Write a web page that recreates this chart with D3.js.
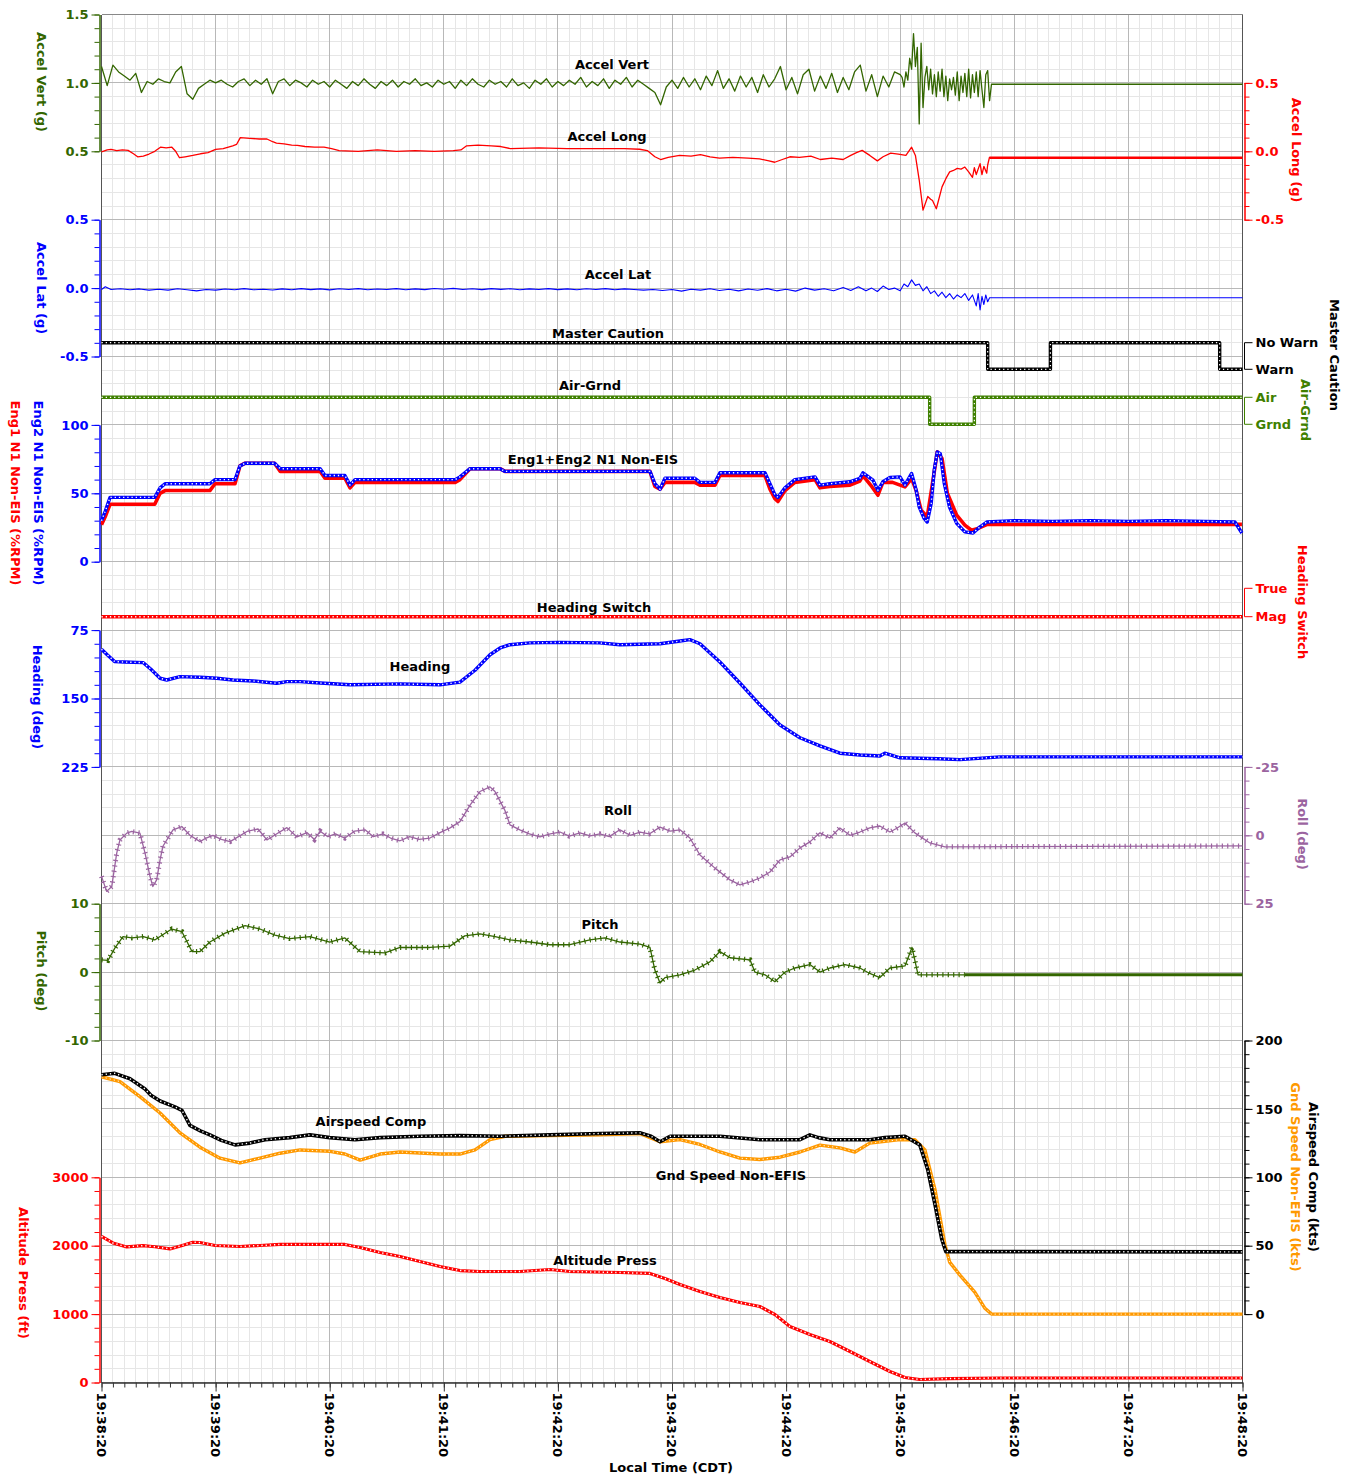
<!DOCTYPE html>
<html lang="en">
<head>
<meta charset="UTF-8">
<title>Flight Data Plot</title>
<style>
  body { margin: 0; background: #fff; }
  svg text { font-family: "DejaVu Sans", Verdana, sans-serif; font-weight: bold; font-size: 13px; }
</style>
</head>
<body>
<script src="https://d3js.org/d3.v7.min.js"></script>
<script>
// 1. data (t = seconds after 19:38:20)
// accel vert: 3 s samples from t=0, then 1 s samples from t=421
const accelVertSlow = [
  1.12, 0.98, 1.13, 1.08, 1.05, 1.02, 1.07, 0.93, 1.01, 0.99, 1.03, 1.01, 1.00, 1.08, 1.12, 0.92, 0.88, 0.96, 0.99, 1.02, 1.00,
  1.02, 0.99, 0.97, 1.01, 1.03, 0.98, 1.02, 0.99, 1.03, 0.92,
  1.01, 1.03, 0.98, 1.02, 1.00, 0.97, 1.02, 0.99, 1.01, 0.97,
  1.02, 0.99, 0.96, 1.01, 0.98, 1.03, 0.99, 0.96, 1.01, 0.98,
  1.02, 0.97, 1.01, 0.99, 1.03, 0.98, 1.00, 0.97, 1.02, 0.99,
  1.01, 0.96, 1.02, 0.98, 1.03, 0.99, 0.97, 1.02, 0.99, 1.01,
  0.97, 1.03, 0.98, 1.00, 0.96, 1.02, 0.99, 1.03, 0.97, 1.01,
  0.98, 1.02, 0.99, 1.04, 0.97, 1.01, 0.98, 1.03, 0.96, 1.02,
  0.99, 1.04, 0.97, 1.02, 0.99, 0.96,
  0.93, 0.84, 0.97,
  1.02, 0.96, 1.04, 0.97, 1.03, 0.95, 1.05, 0.98, 1.09, 0.96,
  1.03, 0.94, 1.05, 0.97, 1.04, 0.93, 1.06, 0.97, 1.03, 1.12,
  0.95, 1.04, 0.92, 1.06, 1.10, 0.94, 1.05, 0.96, 1.07, 0.93,
  1.04, 0.95, 1.08, 1.13, 0.94, 1.06, 0.90, 1.05, 0.97, 1.08,
  1.06
];
const accelVertFast = [
  1.04, 0.97, 1.08, 1.02, 1.18, 1.10, 1.36, 1.12, 1.26, 0.70,
  1.29, 0.82, 1.04, 1.12, 0.95, 1.10, 0.92, 1.06, 0.90, 1.08,
  0.94, 1.10, 0.90, 1.05, 0.87, 1.03, 0.95, 1.04, 0.91, 1.08,
  0.87, 1.05, 0.93, 1.07, 0.90, 1.10, 0.89, 1.06, 0.93, 1.08,
  0.90, 1.09, 0.95, 0.82, 1.06, 1.09, 0.87
];
const accelVertTail = [[468, 0.99], [600, 0.99]];

const accelLong = [[0,-0.005],[3,0.01],[5,0.014],[8,0.005],[11,0.01],[14,0.007],[17,-0.02],[19,-0.04],[22,-0.035],[25,-0.02],
  [28,0.0],[31,0.03],[34,0.025],[37,0.03],[39,0.0],[41,-0.047],[44,-0.04],[48,-0.03],[52,-0.018],[56,-0.01],[60,0.014],
  [64,0.02],[69,0.04],[71,0.05],[73,0.10],[78,0.095],[83,0.09],[87,0.09],[90,0.07],[92,0.06],[96,0.055],[100,0.045],
  [103,0.043],[107,0.035],[112,0.03],[117,0.03],[121,0.02],[125,0.005],[135,0.0],[145,0.01],[155,0.0],[165,0.005],
  [175,0.0],[185,0.005],[189,0.01],[192,0.04],[198,0.045],[205,0.04],[210,0.035],[215,0.02],[230,0.025],[245,0.02],
  [260,0.02],[275,0.02],[283,0.015],[287,0.005],[291,-0.04],[294,-0.06],[298,-0.045],[304,-0.03],[310,-0.035],
  [315,-0.025],[320,-0.04],[325,-0.05],[332,-0.045],[340,-0.05],[346,-0.055],[351,-0.07],[354,-0.08],[358,-0.06],
  [362,-0.04],[367,-0.045],[373,-0.035],[378,-0.06],[384,-0.05],[390,-0.06],[394,-0.03],[397,-0.01],[400,0.007],
  [404,-0.03],[408,-0.07],[411,-0.04],[415,-0.013],[419,-0.02],[423,-0.03],[426,0.03],[428,-0.03],[430,-0.21],
  [432,-0.43],[434.5,-0.33],[436,-0.35],[437,-0.36],[439,-0.42],[442,-0.26],[444,-0.2],[446,-0.15],[448,-0.14],
  [450,-0.125],[452,-0.13],[454,-0.115],[456,-0.15],[458,-0.19],[459,-0.12],[460,-0.17],[462,-0.09],[463,-0.17],
  [464,-0.11],[465.5,-0.16],[466,-0.1],[467,-0.04]];
const accelLongTail = [[467,-0.047],[600,-0.047]];

const accelLat = [[0,-0.01],[2,0.01],[5,-0.01],[10,-0.005],[15,-0.012],[20,-0.006],[25,-0.015],[30,-0.008],[35,-0.015],
  [40,-0.005],[45,-0.012],[50,-0.02],[55,-0.01],[60,-0.015],[65,-0.007],[70,-0.012],[75,-0.004],[80,-0.012],[85,-0.008],
  [90,-0.014],[95,-0.006],[100,-0.012],[105,-0.004],[110,-0.011],[115,-0.006],[120,-0.013],[125,-0.005],[130,-0.01],
  [135,-0.004],[140,-0.012],[145,-0.007],[150,-0.01],[155,-0.004],[160,-0.012],[165,-0.006],[170,-0.011],[175,-0.003],
  [180,-0.008],[185,-0.002],[190,-0.01],[195,-0.005],[200,-0.011],[205,-0.004],[210,-0.009],[215,-0.005],[220,-0.012],
  [225,-0.006],[230,-0.01],[235,-0.004],[240,-0.011],[245,-0.006],[250,-0.012],[255,-0.005],[260,-0.01],[265,-0.004],
  [270,-0.012],[275,-0.006],[280,-0.01],[285,-0.015],[290,-0.01],[295,-0.018],[300,-0.01],[305,-0.022],[310,-0.008],
  [315,-0.015],[320,-0.005],[325,-0.018],[330,-0.008],[335,-0.02],[340,-0.006],[345,-0.016],[350,-0.004],[355,-0.02],
  [360,-0.008],[365,-0.022],[370,0.0],[375,-0.015],[380,-0.005],[385,-0.02],[390,0.005],[394,-0.018],[398,0.01],
  [402,-0.02],[405,0.0],[408,-0.025],[411,0.015],[414,-0.01],[417,0.0],[420,-0.02],[422,0.03],[424,0.01],[426,0.06],
  [428,0.02],[430,0.03],[432,-0.02],[434,0.01],[436,-0.04],[438,-0.02],[440,-0.06],[442,-0.03],[444,-0.07],[446,-0.04],
  [448,-0.08],[450,-0.05],[452,-0.07],[454,-0.04],[456,-0.09],[458,-0.05],[460,-0.13],[461,-0.04],[462,-0.16],
  [463,-0.06],[464,-0.12],[465,-0.05],[466,-0.1],[467,-0.07],[600,-0.07]];

// discrete: 1 = No Warn / Air / True, 0 = Warn / Grnd / Mag
const masterCaution = [[0,1],[466,0],[499,1],[588,0],[600,0]];
const airGrnd = [[0,1],[435.5,0],[459,1],[600,1]];
const headingSwitch = [[0,0],[600,0]];

const eng2N1 = [[0,30],[2,37],[4.5,47],[28,47],[30.8,54],[33.4,57],[57,57],[59.7,60],[70.2,60],[72.8,70],[75.5,72],
  [91,72],[94,68],[115,68],[117.5,63],[128,63],[130.7,56],[133.3,60],[186,60],[188.5,62],[193.8,68],[209.6,68],
  [212.2,66],[288.4,66],[291,57],[293.7,53],[296.3,61],[312,61],[314.7,58],[322.6,58],[325.2,65],[348.9,65],
  [351.5,57],[354.1,49],[355.7,47],[359.4,54],[364.6,60],[375.2,62],[377.8,56],[383,57],[393.6,58.4],[398.8,61],
  [400.4,65],[405.7,59.6],[408.3,52.3],[410.9,58.4],[414.6,61.6],[419.9,62],[422.5,56],[426,64.5],[428.4,52.3],
  [430,40],[432.6,31.6],[434.2,29],[436.3,42.6],[437.9,67],[439.5,80.3],[441.1,79],[443.2,57],[445.9,40],[449.7,28],
  [454,21.8],[458.3,21],[462,25.5],[465.5,29],[480,30],[500,29.5],[520,30],[540,29.5],[560,30],[580,29.5],[596,29],
  [599.7,21]];
const eng1N1 = [[0,27],[2,33],[4.5,42],[28,42],[30.8,50],[33.4,52],[57,52],[59.7,57],[70.2,57],[72.8,70],[75.5,72],
  [91,72],[94,66],[115,66],[117.5,61],[128,61],[130.7,54],[133.3,58],[186,58],[188.5,60],[193.8,68],[209.6,68],
  [212.2,66],[288.4,66],[291,55],[293.7,53],[296.3,58],[312,58],[314.7,56],[322.6,56],[325.2,63],[348.9,63],
  [351.5,53],[354.1,46],[355.7,44],[359.4,52],[364.6,58],[375.2,60],[377.8,54],[383,55],[393.6,56],[398.8,59],
  [400.4,63],[405,55],[408.3,48.6],[410.9,58],[416,58],[422.5,54.7],[426,60.8],[428.4,52],[431,37.7],[434.2,32.8],
  [436.7,54.7],[439.5,80.3],[442,75.4],[444.8,50],[449.7,34],[454,26.7],[457.5,23],[460.9,24.3],[465.5,27.2],
  [599.7,27.3]];

const heading = [[0,96],[3,102],[7,109.6],[12,110],[22,110.7],[26,118],[30.8,127.8],[34.3,129.7],[41.3,126],
  [51.8,126.7],[60.6,127.8],[69.1,129.7],[79.7,130.8],[92.1,133.3],[97.4,131.5],[104.4,131.5],[115,133],[130.7,135],
  [157,134],[178,135],[188.5,132],[196.4,119],[204.3,102],[209.6,94.6],[214.8,91],[225.3,89],[241,88.5],[262,89],
  [272.6,91],[293.7,90],[304.2,87],[309.4,85.5],[314.7,90],[325.2,110],[335.7,133],[346.2,157],[356.8,179],
  [367.3,193],[377.8,202],[388.3,210],[398.8,212],[409.3,213],[411.9,210],[419.9,215],[440,216],[451.4,217],
  [472.5,214],[600,214]];

const roll = [[0,15],[2.7,20.5],[5.4,18.7],[8,6.5],[9.7,1.7],[13.3,-0.8],[15.9,-1.4],[20.2,-0.8],[22.9,6.5],[25.5,15],
  [27,18.7],[29,16.3],[30.8,9],[32.3,4],[37.6,-2],[42.2,-3.2],[46.5,0],[51.8,2.3],[55,1],[58.6,0],[63,1.5],[67.6,2.3],
  [72,0.5],[76.5,-1.4],[82.3,-2.3],[87,1.7],[92,-0.5],[97.5,-2.8],[102.8,0.6],[108,-1],[112,1.5],[115,-1.5],[119,0.5],
  [123,-0.5],[128,1],[133,-1.5],[138.6,-2],[143,0.5],[148,-0.5],[152,1],[157,2],[162,0.5],[167,1.5],[172.7,1],
  [178,-1],[183.3,-2.7],[188.5,-5],[193.8,-11],[199,-16],[204.3,-17.7],[206.9,-16],[212.2,-9],[214.8,-3.8],[220,-2],
  [225,-0.5],[230.6,0.6],[236,-0.5],[241.1,-1.2],[246,0.3],[251.6,-0.9],[257,0.2],[262.1,-0.5],[267,0.5],[272.6,-2],
  [278,0],[283.2,-1.2],[288,-0.5],[293.7,-3],[299,-1.5],[304.2,-2],[309.4,1],[314.7,7.2],[322.6,12],[330.5,16.3],
  [335.7,18.1],[341,17],[346.2,15.6],[351.5,13.4],[356.8,9],[362,7.9],[367.3,4.6],[372.5,2.4],[377.8,-0.9],[383,1],
  [388.3,-2.7],[393.6,0],[398.8,-1.2],[404,-2.7],[409.3,-3.4],[414.6,-1.2],[418,-2.5],[422.5,-4.5],[427.7,-0.9],
  [435.6,2.8],[443.5,4.2],[600,3.9]];

const pitch = [[0,1.8],[3.4,1.7],[7,3.5],[11.3,5.2],[16,5],[22,5.2],[28,4.7],[33,5.6],[37,6.3],[42.3,5.9],[47.6,3.0],
  [51.8,3.0],[57,4.4],[65,5.7],[75.5,6.8],[83.3,6.3],[91.2,5.4],[99,4.9],[109.6,5.2],[120,4.4],[128,5],[135.9,3.0],
  [149,2.8],[157,3.6],[172.7,3.6],[183.3,3.8],[191,5.3],[199,5.6],[207,5.2],[214.8,4.7],[225.3,4.4],[235.8,4],
  [246.3,4],[256.8,4.7],[264.7,5],[272.6,4.4],[283.2,4.1],[288.4,3.6],[291,0.3],[293.7,-1.6],[296.3,-0.8],
  [304.2,-0.4],[312,0.3],[319.9,1.5],[325.2,3],[330.5,2.1],[341,1.8],[343.6,0],[348.9,-0.4],[354.1,-1.4],[359.4,0],
  [364.6,0.6],[372.5,1.1],[377.8,0],[383,0.6],[390.9,1.1],[398.8,0.6],[404,-0.2],[409.3,-0.8],[414.6,0.6],
  [422.5,0.9],[426.2,3.6],[429.4,-0.4],[454,-0.4]];
const pitchTail = [[454,-0.4],[600,-0.4]];

const airspeed = [[0,175],[7,176],[15,172],[22.9,164.5],[26,160],[30.8,155.8],[38.6,151.5],[42.3,149],[46.5,138],
  [52,134],[57,131],[63,127],[70.2,123.7],[78,125],[86,127.5],[99,129],[109.6,131],[120,129],[133.3,127.5],
  [146.5,129],[167.5,130],[188.5,130.5],[209.6,130],[235.8,131],[262,132],[283,132.5],[289,130],[293.7,126],
  [299,130],[325.2,130],[346.2,127.5],[367.3,127.5],[372.5,131],[377,129],[383,127.5],[404,127.5],[411.9,129],
  [422.5,130],[430.3,123.7],[434.5,105.5],[438.3,80],[441.9,54.5],[444,45.7],[600,45.5]];

const gndSpeed = [[0,173.5],[9.7,170],[20.2,159],[30.8,147],[41.3,132.5],[51.8,122],[62.3,114],[72.8,110.5],
  [83.3,114],[93.9,117.6],[104.4,120],[120.1,119],[128,117],[136,112.6],[146.5,117],[157,118.5],[178,117],
  [188.5,117],[196.4,120],[204.3,127.5],[212.2,130],[235.8,130.5],[262,131],[283,132],[293.7,126],[304.2,127.5],
  [314.7,124],[325.2,118.5],[335.7,114],[346.2,113],[356.8,114.7],[367.3,118.5],[377.8,123.5],[388.3,121.5],
  [396.2,118.5],[404,125],[419.9,127.5],[427.7,127.5],[433,120],[438.3,91],[443.5,51],[446,38],[451.4,28.5],
  [459.2,16],[464.4,4.5],[468,0],[600,0]];

const altitude = [[0,2137],[6,2040],[13.3,1982],[21.8,2001],[28,1985],[36,1953],[42,2000],[48,2050],[51.8,2047],
  [59.7,2003],[72.8,1988],[83.3,2003],[93.9,2018],[114.9,2018],[128,2018],[136,1974],[146.5,1900],[157,1842],
  [167.5,1769],[178,1696],[188.5,1637],[199,1623],[220,1623],[235.8,1652],[246.3,1623],[272.6,1608],[288.4,1594],
  [296.3,1520],[304.2,1433],[314.7,1330],[325.2,1243],[335.7,1170],[346.2,1111],[354.1,994],[362,819],[372.5,702],
  [383,599],[393.6,453],[404,307],[414.6,161],[422.5,73],[430.3,44],[446,58],[472.5,66],[600,66]];

const timeTicks = ["19:38:20","19:39:20","19:40:20","19:41:20","19:42:20","19:43:20",
                   "19:44:20","19:45:20","19:46:20","19:47:20","19:48:20"];

// 2. layout
const width = 1359, height = 1479;
const X0 = 101.5, X1 = 1242.5, Y0 = 14.5, RH = 68.4;
const row = k => Y0 + k * RH;
const LEFT = 99.5, RIGHT = 1244.5;

const GREEN = "#336600", AIRGREEN = "#3f8000", RED = "#ff0000", BLUE = "#0000ff",
      PURPLE = "#9b64a0", ORANGE = "#ff9900", BLACK = "#000000";

const svg = d3.select("body").append("svg").attr("width", width).attr("height", height);

const x = d3.scaleLinear().domain([0, 600]).range([X0, X1]);

const yAccelVert = d3.scaleLinear().domain([0.5, 1.5]).range([row(2), row(0)]);
const yAccelLong = d3.scaleLinear().domain([-0.5, 0.5]).range([row(3), row(1)]);
const yAccelLat  = d3.scaleLinear().domain([-0.5, 0.5]).range([row(5), row(3)]);
const yCaution   = d3.scaleLinear().domain([0, 1]).range([369.3, 342.7]);
const yAirGrnd   = d3.scaleLinear().domain([0, 1]).range([424.3, 397.3]);
const yEng       = d3.scaleLinear().domain([0, 100]).range([row(8), row(6)]);
const yHdgSw     = d3.scaleLinear().domain([0, 1]).range([616.7, 588.3]);
const yHeading   = d3.scaleLinear().domain([75, 225]).range([row(9), row(11)]);
const yRoll      = d3.scaleLinear().domain([-25, 25]).range([row(11), row(13)]);
const yPitch     = d3.scaleLinear().domain([-10, 10]).range([row(15), row(13)]);
const ySpeed     = d3.scaleLinear().domain([0, 200]).range([row(19), row(15)]);
const yAlt       = d3.scaleLinear().domain([0, 3000]).range([row(20), row(17)]);

// 3. grid
const grid = svg.append("g").attr("shape-rendering", "crispEdges");
const vT = d3.range(0, 601, 6), hT = d3.range(0, 101);
grid.selectAll(".vmin").data(vT.filter(d => d % 60)).join("line")
  .attr("x1", d => x(d)).attr("x2", d => x(d)).attr("y1", Y0).attr("y2", row(20)).attr("stroke", "#e6e6e6");
grid.selectAll(".hmin").data(hT.filter(d => d % 5)).join("line")
  .attr("x1", X0).attr("x2", X1).attr("y1", d => Y0 + d * RH / 5).attr("y2", d => Y0 + d * RH / 5).attr("stroke", "#e6e6e6");
grid.selectAll(".vmaj").data(vT.filter(d => d % 60 === 0)).join("line")
  .attr("x1", d => x(d)).attr("x2", d => x(d)).attr("y1", Y0).attr("y2", row(20)).attr("stroke", "#b8b8b8");
grid.selectAll(".hmaj").data(d3.range(0, 21)).join("line")
  .attr("x1", X0).attr("x2", X1).attr("y1", d => row(d)).attr("y2", d => row(d)).attr("stroke", "#b8b8b8");
grid.append("line").attr("x1", X0).attr("x2", X1).attr("y1", Y0).attr("y2", Y0).attr("stroke", "#888");
grid.append("line").attr("x1", X0).attr("x2", X0).attr("y1", Y0).attr("y2", row(20)).attr("stroke", "#555");
grid.append("line").attr("x1", X1).attr("x2", X1).attr("y1", Y0).attr("y2", row(20)).attr("stroke", "#555");

// 4. series
const plot = svg.append("g");
function lineFor(ys, curve) {
  return d3.line().x(d => x(d[0])).y(d => ys(d[1])).curve(curve || d3.curveLinear);
}
function plain(data, ys, color, w, curve) {
  plot.append("path").datum(data).attr("d", lineFor(ys, curve))
    .attr("fill", "none").attr("stroke", color).attr("stroke-width", w).attr("stroke-linejoin", "round");
}
// hollow marker look: thick coloured line with small white holes
function beads(data, ys, color, w, hole, curve) {
  plain(data, ys, color, w, curve);
  plot.append("path").datum(data).attr("d", lineFor(ys, curve))
    .attr("fill", "none").attr("stroke", "#fff").attr("stroke-width", hole)
    .attr("stroke-dasharray", "1.3 2.9");
}
// cross marker look: thin line with short bars across it
function crosses(data, ys, color, curve) {
  plain(data, ys, color, 1.3, curve);
  plot.append("path").datum(data).attr("d", lineFor(ys, curve))
    .attr("fill", "none").attr("stroke", color).attr("stroke-width", 5)
    .attr("stroke-dasharray", "1.2 4.2");
}

const accelVertPts = accelVertSlow.map((v, i) => [i * 3, v])
  .concat(accelVertFast.map((v, i) => [421 + i, v]))
  .concat(accelVertTail);
plain(accelVertPts, yAccelVert, GREEN, 1.3);
plain(accelLong, yAccelLong, RED, 1.3);
plain(accelLongTail, yAccelLong, RED, 2.6);
plain(accelLat, yAccelLat, BLUE, 1.1);

beads(masterCaution, yCaution, BLACK, 3.4, 1.2, d3.curveStepAfter);
beads(airGrnd, yAirGrnd, AIRGREEN, 3.4, 1.2, d3.curveStepAfter);

plain(eng1N1, yEng, RED, 3.6);
beads(eng2N1, yEng, BLUE, 3.4, 1.4);

beads(headingSwitch, yHdgSw, RED, 3.4, 1.4);
beads(heading, yHeading, BLUE, 3.4, 1.4);

crosses(roll, yRoll, PURPLE);
crosses(pitch, yPitch, GREEN);
plain(pitchTail, yPitch, GREEN, 3);

beads(gndSpeed, ySpeed, ORANGE, 3.4, 0.9);
beads(airspeed, ySpeed, BLACK, 3.6, 1.4);
beads(altitude, yAlt, RED, 3.2, 1.5);

// 5. axes
function styleAxis(g, color) {
  g.attr("font-family", null).attr("font-size", null).attr("color", color);
  g.selectAll("text").attr("fill", color);
}
function axisL(scale, major, step, color, fmt) {
  const [a, b] = d3.extent(scale.domain());
  const gm = svg.append("g").attr("transform", `translate(${LEFT},0)`);
  gm.call(d3.axisLeft(scale).tickValues(d3.range(a, b + step / 2, step)).tickSize(5).tickSizeOuter(0).tickFormat(""));
  styleAxis(gm, color);
  const g = svg.append("g").attr("transform", `translate(${LEFT},0)`);
  g.call(d3.axisLeft(scale).tickValues(major).tickSize(8).tickSizeOuter(0).tickPadding(3).tickFormat(fmt));
  styleAxis(g, color);
}
function axisR(scale, major, step, color, fmt) {
  const [a, b] = d3.extent(scale.domain());
  const gm = svg.append("g").attr("transform", `translate(${RIGHT},0)`);
  gm.call(d3.axisRight(scale).tickValues(d3.range(a, b + step / 2, step)).tickSize(5).tickSizeOuter(0).tickFormat(""));
  styleAxis(gm, color);
  const g = svg.append("g").attr("transform", `translate(${RIGHT},0)`);
  g.call(d3.axisRight(scale).tickValues(major).tickSize(8).tickSizeOuter(0).tickPadding(3).tickFormat(fmt));
  styleAxis(g, color);
}
// plain hyphen for negatives, as in the original
const f1 = d => d3.format(".1f")(d).replace("\u2212", "-");
const f0 = d => d3.format("d")(d).replace("\u2212", "-");
axisL(yAccelVert, [0.5, 1.0, 1.5], 0.1, GREEN, f1);
axisR(yAccelLong, [-0.5, 0, 0.5], 0.1, RED, f1);
axisL(yAccelLat, [-0.5, 0, 0.5], 0.1, BLUE, f1);
axisL(yEng, [0, 50, 100], 10, BLUE, f0);
axisL(yHeading, [75, 150, 225], 15, BLUE, f0);
axisR(yRoll, [-25, 0, 25], 5, PURPLE, f0);
axisL(yPitch, [-10, 0, 10], 2, GREEN, f0);
axisR(ySpeed, [0, 50, 100, 150, 200], 10, BLACK, f0);
axisL(yAlt, [0, 1000, 2000, 3000], 200, RED, f0);

// discrete bracket axes on the right
function bracket(scale, names, color) {
  const g = svg.append("g");
  const y1 = scale(1), y0 = scale(0);
  g.append("path").attr("d", `M${RIGHT + 8},${y1}H${RIGHT}V${y0}H${RIGHT + 8}`)
    .attr("fill", "none").attr("stroke", color);
  g.selectAll("text").data([[y1, names[1]], [y0, names[0]]]).join("text")
    .attr("x", RIGHT + 11).attr("y", d => d[0]).attr("dy", "0.35em").attr("fill", color).text(d => d[1]);
}
bracket(yCaution, ["Warn", "No Warn"], BLACK);
bracket(yAirGrnd, ["Grnd", "Air"], AIRGREEN);
bracket(yHdgSw, ["Mag", "True"], RED);

// time axis
const gtMin = svg.append("g").attr("transform", `translate(0,${row(20)})`);
gtMin.call(d3.axisBottom(x).tickValues(vT).tickSize(5).tickSizeOuter(0).tickFormat(""));
styleAxis(gtMin, "#333");
const gt = svg.append("g").attr("transform", `translate(0,${row(20)})`);
gt.call(d3.axisBottom(x).tickValues(d3.range(0, 601, 60)).tickSize(9).tickSizeOuter(0).tickFormat(""));
styleAxis(gt, "#333");
svg.append("g").selectAll("text").data(timeTicks).join("text")
  .attr("transform", (d, i) => `translate(${x(i * 60)},${row(20) + 10}) rotate(90)`)
  .attr("dy", "0.35em").attr("fill", BLACK).text(d => d);
svg.append("text").attr("x", 671).attr("y", 1472).attr("text-anchor", "middle").text("Local Time (CDT)");

// 6. axis titles (rotated, reading downwards)
const titles = [
  ["Accel Vert (g)", 42, 82, GREEN], ["Accel Lat (g)", 42, 288, BLUE],
  ["Eng2 N1 Non-EIS (%RPM)", 39, 493, BLUE], ["Eng1 N1 Non-EIS (%RPM)", 16, 493, RED],
  ["Heading (deg)", 38, 697, BLUE], ["Pitch (deg)", 42, 971, GREEN], ["Altitude Press (ft)", 24, 1273, RED],
  ["Accel Long (g)", 1297, 150, RED], ["Master Caution", 1335, 355, BLACK], ["Air-Grnd", 1306, 410, AIRGREEN],
  ["Heading Switch", 1303, 602, RED], ["Roll (deg)", 1303, 834, PURPLE],
  ["Airspeed Comp (kts)", 1314, 1177, BLACK], ["Gnd Speed Non-EFIS (kts)", 1296, 1177, ORANGE]
];
svg.append("g").selectAll("text").data(titles).join("text")
  .attr("transform", d => `translate(${d[1]},${d[2]}) rotate(90)`)
  .attr("text-anchor", "middle").attr("dy", "0.35em").attr("fill", d => d[3]).text(d => d[0]);

// 7. series labels
const seriesLabels = [
  ["Accel Vert", 612, 64], ["Accel Long", 607, 136], ["Accel Lat", 618, 274], ["Master Caution", 608, 333],
  ["Air-Grnd", 590, 385], ["Eng1+Eng2 N1 Non-EIS", 593, 459], ["Heading Switch", 594, 607], ["Heading", 420, 666],
  ["Roll", 618, 810], ["Pitch", 600, 924], ["Airspeed Comp", 371, 1121], ["Gnd Speed Non-EFIS", 731, 1175],
  ["Altitude Press", 605, 1260]
];
svg.append("g").selectAll("text").data(seriesLabels).join("text")
  .attr("x", d => d[1]).attr("y", d => d[2]).attr("dy", "0.35em").attr("text-anchor", "middle")
  .attr("fill", BLACK).text(d => d[0]);
</script>
</body>
</html>
